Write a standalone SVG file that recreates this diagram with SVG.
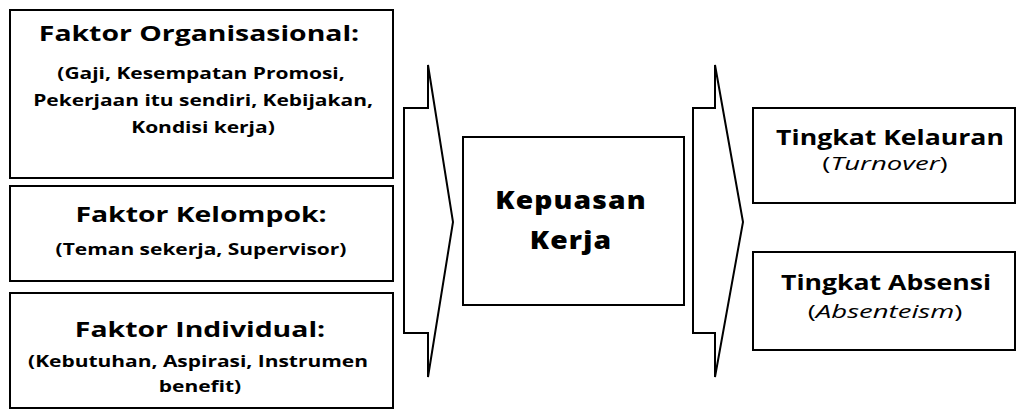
<svg xmlns="http://www.w3.org/2000/svg" width="1017" height="410" viewBox="0 0 1017 410">
  <style>
    .box { fill: #fff; stroke: #000; stroke-width: 2; }
    .arrow { fill: #fff; stroke: #000; stroke-width: 2; stroke-linejoin: miter; }
    text { font-family: "Open Sans", "Liberation Sans", sans-serif; fill: #000; text-anchor: middle; }
    .title { font-size: 22px; font-weight: 700; }
    .sub { font-size: 16px; font-weight: 700; }
    .core { font-size: 25px; font-weight: 800; letter-spacing: 1px; }
    .out { font-size: 22px; font-weight: 700; }
    .note { font-size: 19px; font-weight: 400; }
  </style>
  <rect width="1017" height="410" fill="#fff"/>

  <!-- block arrows -->
  <g id="connectors">
    <path class="arrow" d="M404,108 H428 V65 L453,222 L428,377 V333 H404 Z"/>
    <path class="arrow" d="M693,108 H715 V65 L743,222 L715,377 V333 H693 Z"/>
  </g>

  <!-- labels use a horizontal stretch for the wide typeface -->
  <g id="faktor-organisasional">
    <rect class="box" x="10" y="10" width="383" height="168"/>
    <text class="title" transform="translate(199,41) scale(1.29,1)">Faktor Organisasional:</text>
    <text class="sub" transform="translate(201,79) scale(1.31,1)">(Gaji, Kesempatan Promosi,</text>
    <text class="sub" transform="translate(203,106) scale(1.31,1)">Pekerjaan itu sendiri, Kebijakan,</text>
    <text class="sub" transform="translate(203,133) scale(1.31,1)">Kondisi kerja)</text>
  </g>

  <g id="faktor-kelompok">
    <rect class="box" x="10" y="186" width="383" height="95"/>
    <text class="title" transform="translate(201,222) scale(1.29,1)">Faktor Kelompok:</text>
    <text class="sub" transform="translate(201,255) scale(1.31,1)">(Teman sekerja, Supervisor)</text>
  </g>

  <g id="faktor-individual">
    <rect class="box" x="10" y="293" width="383" height="115"/>
    <text class="title" transform="translate(200,337) scale(1.29,1)">Faktor Individual:</text>
    <text class="sub" transform="translate(198,367) scale(1.31,1)">(Kebutuhan, Aspirasi, Instrumen</text>
    <text class="sub" transform="translate(200,392) scale(1.31,1)">benefit)</text>
  </g>

  <g id="kepuasan-kerja">
    <rect class="box" x="463" y="137" width="221" height="168"/>
    <text class="core" transform="translate(571,209) scale(1.13,1)">Kepuasan</text>
    <text class="core" transform="translate(571,249) scale(1.13,1)">Kerja</text>
  </g>

  <g id="tingkat-kelauran">
    <rect class="box" x="753" y="108" width="262" height="95"/>
    <text class="out" transform="translate(890,145) scale(1.21,1)">Tingkat Kelauran</text>
    <text class="note" transform="translate(885,170) scale(1.45,1)">(<tspan font-style="italic">Turnover</tspan>)</text>
  </g>

  <g id="tingkat-absensi">
    <rect class="box" x="753" y="252" width="262" height="98"/>
    <text class="out" transform="translate(886,290) scale(1.21,1)">Tingkat Absensi</text>
    <text class="note" transform="translate(885,318) scale(1.45,1)">(<tspan font-style="italic">Absenteism</tspan>)</text>
  </g>
</svg>
